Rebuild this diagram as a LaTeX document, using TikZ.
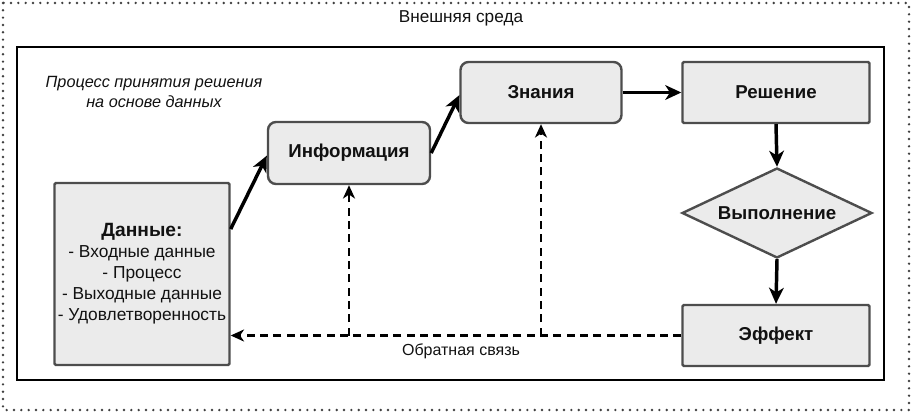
\documentclass[tikz,border=0pt]{standalone}
\definecolor{BoxFill}{HTML}{EBEBEB}
\definecolor{BoxLine}{HTML}{4D4D4D}
\definecolor{TextDark}{HTML}{111111}
\definecolor{DotLine}{HTML}{404040}
\usepackage{xcolor}
\usepackage{fontspec}
\setmainfont{Liberation Sans}
\usepackage{tikz}
\usetikzlibrary{shapes.geometric,arrows.meta}

\begin{document}
\begin{tikzpicture}[x=0.75pt,y=-0.75pt,text=TextDark,
  stagebox/.style={draw=BoxLine,fill=BoxFill,line width=1.8pt,
    font=\bfseries\fontsize{14}{16}\selectfont,inner sep=2pt},
  flowarrow/.style={-{Stealth[length=12pt,width=11pt,inset=3.5pt]},line width=2.6pt},
  backarrow/.style={-{Stealth[length=10pt,width=9pt,inset=3pt]},line width=2pt,
    dash pattern=on 6pt off 4pt}]
  \useasboundingbox (0,0) rectangle (912,413);

  % Environment
  \draw[DotLine,line width=2pt,line cap=round,dash pattern=on 0pt off 5.5pt]
    (3,3) rectangle (909,410);
  \node[font=\fontsize{12.9}{15}\selectfont] (env) at (461,18) {Внешняя среда};

  % Process frame
  \draw[line width=1.8pt] (17,47) rectangle (884,380);
  \node[font=\itshape\fontsize{12.2}{15.5}\selectfont,align=center] (title) at (154,92)
    {Процесс принятия решения\\на основе данных};

  % Data
  \node[stagebox,minimum width=131.25pt,minimum height=136.5pt,rounded corners=1pt,
    font=\fontsize{13}{15.75}\selectfont,align=center] (dannye) at (142,274)
    {{\bfseries\fontsize{14.4}{15.75}\selectfont Данные:}\\- Входные данные\\- Процесс\\
     - Выходные данные\\- Удовлетворенность};

  % Information
  \node[stagebox,minimum width=121.5pt,minimum height=46.5pt,rounded corners=6pt]
    (info) at (349,153) {Информация};

  % Knowledge
  \node[stagebox,minimum width=120.75pt,minimum height=45.75pt,rounded corners=6pt]
    (znaniya) at (541,92.5) {Знания};

  % Decision
  \node[stagebox,minimum width=140.25pt,minimum height=45.75pt,rounded corners=1pt]
    (reshenie) at (776,92.5) {Решение};

  % Execution
  \node[stagebox,diamond,aspect=2.1,inner sep=0pt,minimum width=142.5pt,
    minimum height=67.5pt] (vypolnenie) at (777,213) {Выполнение};

  % Effect
  \node[stagebox,minimum width=140.25pt,minimum height=45.75pt,rounded corners=1pt]
    (effekt) at (776,335.5) {Эффект};

  % Main flow
  \draw[flowarrow] ([yshift=33.75pt]dannye.east) -- ([yshift=-2pt]info.west);
  \draw[flowarrow] (info.east) -- ([yshift=-2pt]znaniya.west);
  \draw[flowarrow] (znaniya.east) -- (reshenie.west);
  \draw[flowarrow] (reshenie.south) -- (vypolnenie.north);
  \draw[flowarrow] (vypolnenie.south) -- (effekt.north);

  % Feedback
  \coordinate (fbinfo) at (info.south |- effekt.west);
  \coordinate (fbzn) at (znaniya.south |- effekt.west);
  \draw[backarrow] (effekt.west) -- (effekt.west -| dannye.east);
  \draw[backarrow] (fbinfo) -- (info.south);
  \draw[backarrow] (fbzn) -- (znaniya.south);
  \node[font=\fontsize{12}{14}\selectfont] (fblabel) at (461,351) {Обратная связь};
\end{tikzpicture}
\end{document}
